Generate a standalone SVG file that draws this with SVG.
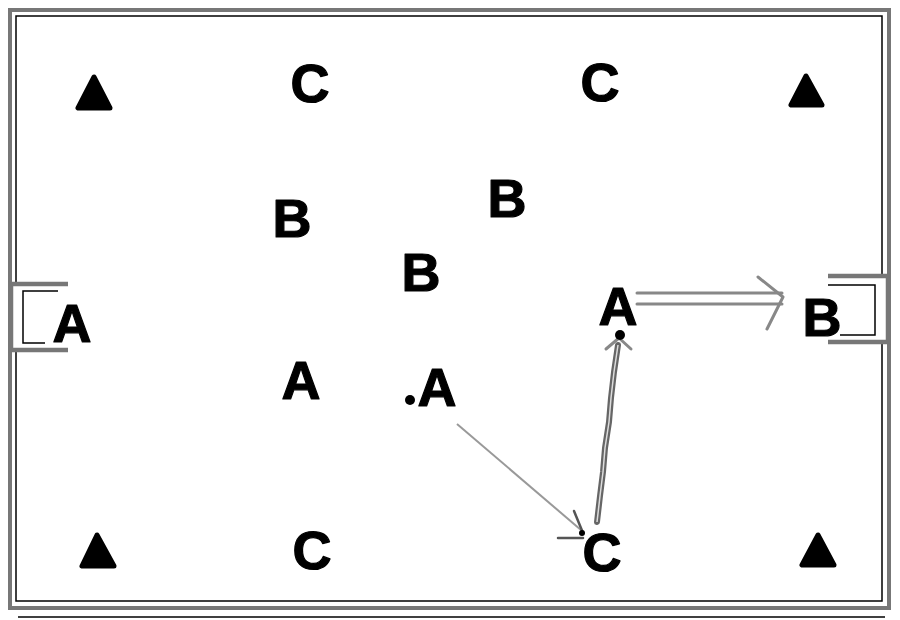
<svg xmlns="http://www.w3.org/2000/svg" width="900" height="620" viewBox="0 0 900 620">
<style>
.lbl{font-family:"Liberation Sans","DejaVu Sans",Arial,sans-serif;font-weight:bold;font-size:54px;fill:#000;stroke:#000;stroke-width:1.2;stroke-linejoin:round;text-anchor:middle}
.tri{fill:#000;stroke:#000;stroke-width:5;stroke-linejoin:round}
.frame{fill:none;stroke:#777;stroke-width:4}
.thin{fill:none;stroke:#000;stroke-width:1.5}
.gray{fill:none;stroke:#888;stroke-width:3;stroke-linecap:round;stroke-linejoin:round}
</style>
<rect width="900" height="620" fill="#fff"/>
<g id="field">
<path class="frame" d="M10 10 H889 V608 H10 Z"/>
<path class="thin" d="M16 16 H882 V601 H16 Z"/>
<line class="thin" x1="18" y1="617" x2="885" y2="617"/>
</g>
<g id="goal-left">
<rect x="14.5" y="286" width="3" height="62" fill="#fff"/>
<path class="frame" d="M68 284 H11 V350 H68" style="stroke-width:4.5"/>
<path class="thin" d="M58 291 H23 V343 H45"/>
</g>
<g id="goal-right">
<rect x="880.5" y="278" width="3" height="62" fill="#fff"/>
<path class="frame" d="M828 276 H888 V342 H828" style="stroke-width:4.5"/>
<path class="thin" d="M828 285 H875 V335 H840"/>
</g>
<g id="cones">
<polygon class="tri" points="94,77 78,108 110,108"/>
<polygon class="tri" points="806,76 791,105 822,105"/>
<polygon class="tri" points="97,535 82,566 114,566"/>
<polygon class="tri" points="818,535 802,565 834,565"/>
</g>
<g id="connectors">
<path class="gray" d="M637 293 H782 M637 304 H782"/>
<path class="gray" d="M758 277 L783 297 L767 329"/>
<path class="gray" style="stroke:#666;stroke-width:6" d="M597 522 L600 496 L603 472 L605 448 L609 422 L611 398 L614 372 L618 345"/>
<path stroke="#ddd" stroke-width="1.5" fill="none" d="M597 522 L600 496 L603 472 L605 448 L609 422 L611 398 L614 372 L618 345"/>
<path class="gray" d="M606 349 L619 338 L631 349"/>
<line x1="457" y1="424" x2="581" y2="530" stroke="#999" stroke-width="2"/>
<path fill="none" stroke="#555" stroke-width="2.5" stroke-linecap="round" d="M574 511 L583 533 M558 538 H583"/>
<circle cx="582" cy="533" r="3" fill="#000"/>
</g>
<g id="players">
<text class="lbl" x="310" y="102">C</text>
<text class="lbl" x="600" y="101">C</text>
<text class="lbl" x="292" y="237">B</text>
<text class="lbl" x="507" y="217">B</text>
<text class="lbl" x="421" y="291">B</text>
<text class="lbl" x="72" y="342">A</text>
<text class="lbl" x="301" y="399">A</text>
<g id="player-ball">
<circle cx="410" cy="400" r="5" fill="#000"/>
<text class="lbl" x="437" y="406">A</text>
</g>
<g id="player-ball-right">
<text class="lbl" x="618" y="325">A</text>
<circle cx="620" cy="335" r="5" fill="#000"/>
</g>
<text class="lbl" x="822" y="336">B</text>
<text class="lbl" x="312" y="569">C</text>
<text class="lbl" x="602" y="571">C</text>
</g>
</svg>
